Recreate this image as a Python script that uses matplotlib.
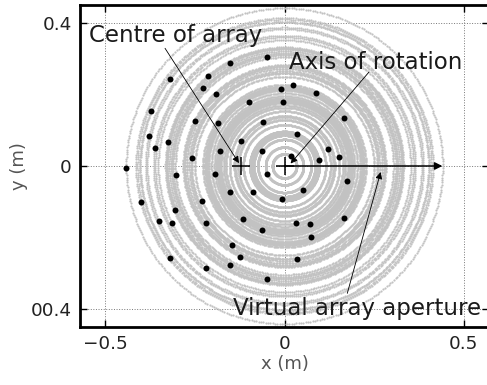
import numpy as np
import matplotlib
matplotlib.use('Agg')
import matplotlib.pyplot as plt

# положения элементов решётки (м)
elem_x = [-0.050, -0.152, -0.212, -0.320, -0.226, -0.192, -0.011, 0.024, 0.089, -0.099,
          -0.005, -0.372, -0.249, -0.184, 0.167, -0.378, -0.325, -0.361, -0.121, 0.034,
          -0.062, -0.180, -0.258, 0.120, 0.017, 0.095, 0.151, -0.441, -0.303, -0.194,
          -0.048, 0.175, -0.153, -0.088, 0.052, -0.008, -0.230, -0.401, -0.305, -0.351,
          -0.314, -0.220, -0.116, 0.167, 0.033, 0.070, -0.062, 0.073, -0.145, -0.123,
          -0.320, 0.034, -0.151, -0.220, -0.050, -0.061]
elem_y = [0.306, 0.289, 0.252, 0.243, 0.217, 0.200, 0.216, 0.226, 0.203, 0.178,
          0.179, 0.154, 0.126, 0.119, 0.133, 0.084, 0.067, 0.051, 0.070, 0.090,
          0.041, 0.041, 0.022, 0.047, 0.029, 0.018, 0.026, -0.006, -0.025, -0.022,
          -0.022, -0.041, -0.073, -0.074, -0.068, -0.091, -0.097, -0.102, -0.122, -0.153,
          -0.159, -0.160, -0.147, -0.145, -0.160, -0.162, -0.180, -0.199, -0.222, -0.254,
          -0.256, -0.259, -0.277, -0.285, -0.317, 0.123]

centre = (-0.121, 0.0)     # центр решётки
axis_pt = (0.0, 0.0)       # ось вращения
aperture = 0.44            # радиус виртуальной апертуры

xticks = [-0.5, 0, 0.5]
xticklabels = ['\u22120.5', '0', '0.5']
yticks = [-0.4, 0, 0.4]
yticklabels = ['00.4', '0', '0.4']

fig = plt.figure(figsize=(4.87, 3.85), dpi=100)
ax = fig.add_axes([80 / 487, 58 / 385, 409 / 487, 322 / 385])

# траектории элементов при вращении
ex = np.array(elem_x)
ey = np.array(elem_y)
r = np.sqrt(ex ** 2 + ey ** 2)
theta = np.linspace(0, 2 * np.pi, 420, endpoint=False)
for ri in r:
    ax.plot(ri * np.cos(theta), ri * np.sin(theta), 'o', ms=1.6, mew=0,
            color='#c2c2c2', zorder=2)

ax.plot(ex, ey, 'o', ms=4.3, mew=0, color='black', zorder=4)
ax.plot(*centre, '+', ms=13, mew=1.1, color='black', zorder=5)
ax.plot(*axis_pt, '+', ms=13, mew=1.1, color='black', zorder=5)

ax.annotate('', xy=(aperture, 0), xytext=axis_pt,
            arrowprops=dict(arrowstyle='-|>', lw=1.1, color='black',
                            mutation_scale=11, shrinkA=0, shrinkB=0), zorder=6)

akw = dict(arrowstyle='-|>', lw=0.6, color='black', mutation_scale=10,
           shrinkA=0, shrinkB=0)
ax.annotate('', xy=(-0.127, 0.008), xytext=(-0.333, 0.329), arrowprops=akw, zorder=6)
ax.annotate('', xy=(0.017, 0.007), xytext=(0.235, 0.262), arrowprops=akw, zorder=6)
ax.annotate('', xy=(0.268, -0.017), xytext=(0.175, -0.356), arrowprops=akw, zorder=6)

tkw = dict(fontsize=16.5, color='#1a1a1a', va='baseline', ha='left', zorder=7)
ax.text(-0.544, 0.346, 'Centre of array', **tkw)
ax.text(0.012, 0.272, 'Axis of rotation', **tkw)
ax.text(-0.144, -0.417, 'Virtual array aperture', **tkw)

ax.set_xlim(-0.57, 0.57)
ax.set_ylim(-0.45, 0.45)
ax.set_xticks(xticks)
ax.set_xticklabels(xticklabels)
ax.set_yticks(yticks)
ax.set_yticklabels(yticklabels)
ax.tick_params(direction='in', length=5, width=1, labelsize=13.2,
               labelcolor='#222222', top=True, right=True, pad=6)
ax.grid(True, linestyle=':', linewidth=0.7, color='#777777', zorder=1)
ax.set_axisbelow(True)
for s in ax.spines.values():
    s.set_linewidth(2)
ax.set_xlabel('x (m)', fontsize=13, color='#555555', labelpad=1)
ax.set_ylabel('y (m)', fontsize=13, color='#555555', labelpad=2)

fig.savefig('out.png', dpi=100)
